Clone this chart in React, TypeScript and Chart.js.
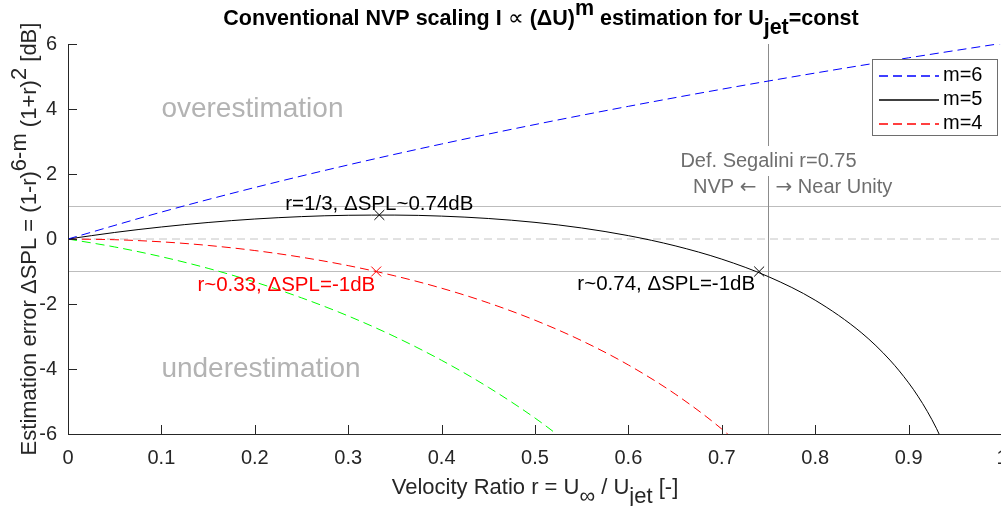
import { useEffect, useRef } from "react";
import { Chart, registerables } from "chart.js";

Chart.register(...registerables);

const FONT = '"Liberation Sans", Arial, Helvetica, sans-serif';
const SYMBOL_FONT = '"DejaVu Sans", sans-serif';
const AXIS_COLOR = "#262626";

// Velocity ratio samples and the ΔSPL estimation error (dB) for each exponent m
const rM6 = [0, 0.1, 0.2, 0.3, 0.4, 0.5, 0.6, 0.7, 0.8, 0.9, 1.0];
const splM6 = [0, 0.828, 1.584, 2.279, 2.923, 3.522, 4.082, 4.609, 5.106, 5.575, 6.021];

const rM5 = [0, 0.05, 0.1, 0.15, 0.2, 0.25, 0.3, 0.35, 0.4, 0.45, 0.5, 0.55, 0.6, 0.65, 0.7, 0.75, 0.8, 0.85, 0.88, 0.9, 0.91, 0.92, 0.93, 0.94];
const splM5 = [0, 0.201, 0.370, 0.508, 0.615, 0.689, 0.730, 0.736, 0.704, 0.631, 0.512, 0.339, 0.103, -0.210, -0.620, -1.160, -1.884, -2.896, -3.725, -4.425, -4.837, -5.303, -5.838, -6.463];

const rM4 = [0, 0.05, 0.1, 0.15, 0.2, 0.25, 0.3, 0.35, 0.4, 0.45, 0.5, 0.55, 0.6, 0.65, 0.7, 0.75];
const splM4 = [0, -0.022, -0.087, -0.198, -0.355, -0.561, -0.819, -1.135, -1.514, -1.965, -2.499, -3.129, -3.876, -4.769, -5.849, -7.180];

const rM3 = [0, 0.05, 0.1, 0.15, 0.2, 0.25, 0.3, 0.35, 0.4, 0.45, 0.5, 0.55];
const splM3 = [0, -0.245, -0.545, -0.903, -1.324, -1.810, -2.368, -3.006, -3.733, -4.562, -5.509, -6.597];

// Highlighted points: [r, ΔSPL]
const peakM5 = [1 / 3, 0.74];
const minusOneM4 = [0.33, -1];
const minusOneM5 = [0.74, -1];

// Reference lines
const guideLevels = [1, -1];
const zeroLevel = 0;
const segaliniR = 0.75;

const xTicks = [0, 0.1, 0.2, 0.3, 0.4, 0.5, 0.6, 0.7, 0.8, 0.9, 1];
const xTickLabels = ["0", "0.1", "0.2", "0.3", "0.4", "0.5", "0.6", "0.7", "0.8", "0.9", "1"];
const yTicks = [-6, -4, -2, 0, 2, 4, 6];
const yTickLabels = ["-6", "-4", "-2", "0", "2", "4", "6"];

const legendLabels = ["m=6", "m=5", "m=4"];
const seriesColors = ["#0000ff", "#000000", "#ff0000", "#00ff00"];
const seriesDash = [[9, 5], [], [9, 5], [9, 5]];

const toPoints = (xs: number[], ys: number[]) => xs.map((x, i) => ({ x, y: ys[i] }));

type Seg = { t: string; s?: "sup" | "sub"; w?: string; f?: string };

function drawRich(
  ctx: CanvasRenderingContext2D,
  segs: Seg[],
  x: number,
  y: number,
  size: number,
  align: "center" | "left" | "right",
  color: string,
  weight = "normal"
) {
  const fontFor = (sg: Seg) => `${sg.w ?? weight} ${size}px ${sg.f ?? FONT}`;
  let total = 0;
  const widths = segs.map((sg) => {
    ctx.font = fontFor(sg);
    const w = ctx.measureText(sg.t).width;
    total += w;
    return w;
  });
  let cx = align === "center" ? x - total / 2 : align === "right" ? x - total : x;
  ctx.fillStyle = color;
  ctx.textAlign = "left";
  segs.forEach((sg, i) => {
    ctx.font = fontFor(sg);
    const dy = sg.s === "sup" ? -0.45 * size : sg.s === "sub" ? 0.42 * size : 0;
    ctx.fillText(sg.t, cx, y + dy);
    cx += widths[i];
  });
}

const decorations = {
  id: "decorations",
  afterDatasetsDraw(chart: any) {
    const { ctx, scales } = chart;
    const xs = scales.x;
    const ys = scales.y;
    // white backdrop behind the Segalini caption
    const cx = xs.getPixelForValue(segaliniR);
    const cy = ys.getPixelForValue(2.4);
    ctx.save();
    ctx.font = `20px ${FONT}`;
    const w = ctx.measureText("Def. Segalini r=0.75").width;
    ctx.fillStyle = "#ffffff";
    ctx.fillRect(cx - w / 2 - 4, cy - 15, w + 8, 30);
    ctx.restore();
  },
  afterDraw(chart: any) {
    const { ctx, chartArea, scales } = chart;
    const xs = scales.x;
    const ys = scales.y;
    const { left, right, top, bottom } = chartArea;
    ctx.save();

    // axes lines and inward ticks
    ctx.strokeStyle = AXIS_COLOR;
    ctx.lineWidth = 1;
    ctx.beginPath();
    ctx.moveTo(Math.round(left) + 0.5, top);
    ctx.lineTo(Math.round(left) + 0.5, Math.round(bottom) + 0.5);
    ctx.lineTo(right, Math.round(bottom) + 0.5);
    xTicks.forEach((t) => {
      const px = Math.round(xs.getPixelForValue(t)) + 0.5;
      ctx.moveTo(px, bottom);
      ctx.lineTo(px, bottom - 9);
    });
    yTicks.forEach((t) => {
      const py = Math.round(ys.getPixelForValue(t)) + 0.5;
      ctx.moveTo(left, py);
      ctx.lineTo(left + 9, py);
    });
    ctx.stroke();

    // tick labels
    ctx.fillStyle = AXIS_COLOR;
    ctx.font = `20px ${FONT}`;
    ctx.textAlign = "center";
    ctx.textBaseline = "middle";
    xTicks.forEach((t, i) => ctx.fillText(xTickLabels[i], xs.getPixelForValue(t), bottom + 24));
    ctx.textAlign = "right";
    yTicks.forEach((t, i) => ctx.fillText(yTickLabels[i], left - 11, ys.getPixelForValue(t)));

    ctx.textBaseline = "alphabetic";
    // title
    drawRich(
      ctx,
      [
        { t: "Conventional NVP scaling I " },
        { t: "\u221D", w: "normal" },
        { t: " (\u0394U)" },
        { t: "m", s: "sup" },
        { t: " estimation for U" },
        { t: "jet", s: "sub" },
        { t: "=const" },
      ],
      (left + right) / 2 + 6,
      25,
      21.5,
      "center",
      "#000000",
      "bold"
    );

    // x axis label
    drawRich(
      ctx,
      [
        { t: "Velocity Ratio r = U" },
        { t: "\u221E", s: "sub" },
        { t: " / U" },
        { t: "jet", s: "sub" },
        { t: " [-]" },
      ],
      (left + right) / 2,
      494,
      22,
      "center",
      AXIS_COLOR
    );

    // y axis label
    ctx.save();
    ctx.translate(36, (top + bottom) / 2);
    ctx.rotate(-Math.PI / 2);
    drawRich(
      ctx,
      [
        { t: "Estimation error \u0394SPL = (1-r)" },
        { t: "6-m", s: "sup" },
        { t: " (1+r)" },
        { t: "2", s: "sup" },
        { t: " [dB]" },
      ],
      0,
      0,
      22,
      "center",
      AXIS_COLOR
    );
    ctx.restore();

    // region captions
    ctx.fillStyle = "#b3b3b3";
    ctx.font = `28px ${FONT}`;
    ctx.textAlign = "left";
    ctx.textBaseline = "middle";
    ctx.fillText("overestimation", xs.getPixelForValue(0.1), ys.getPixelForValue(4));
    ctx.fillText("underestimation", xs.getPixelForValue(0.1), ys.getPixelForValue(-4));

    // Segalini definition
    const vx = xs.getPixelForValue(segaliniR);
    ctx.fillStyle = "#6e6e6e";
    ctx.font = `20px ${FONT}`;
    ctx.textAlign = "center";
    ctx.fillText("Def. Segalini r=0.75", vx, ys.getPixelForValue(2.4));
    ctx.textBaseline = "middle";
    const arrowY = ys.getPixelForValue(1.57);
    drawRich(ctx, [{ t: "NVP " }, { t: "\u2190", f: SYMBOL_FONT }], vx - 12, arrowY, 20, "right", "#6e6e6e");
    drawRich(ctx, [{ t: "\u2192", f: SYMBOL_FONT }, { t: " Near Unity" }], vx + 7, arrowY, 20, "left", "#6e6e6e");

    // point annotations
    ctx.textBaseline = "middle";
    ctx.font = `20.5px ${FONT}`;
    ctx.fillStyle = "#000000";
    ctx.textAlign = "center";
    ctx.fillText("r=1/3, \u0394SPL~0.74dB", xs.getPixelForValue(peakM5[0]), ys.getPixelForValue(peakM5[1]) - 11);
    ctx.textAlign = "right";
    ctx.fillText("r~0.74, \u0394SPL=-1dB", xs.getPixelForValue(minusOneM5[0]) - 4, ys.getPixelForValue(minusOneM5[1]) + 13);
    ctx.fillStyle = "#ff0000";
    ctx.fillText("r~0.33, \u0394SPL=-1dB", xs.getPixelForValue(minusOneM4[0]) - 1, ys.getPixelForValue(minusOneM4[1]) + 14);

    // legend
    const lx = 872.5, ly = 59.5, lw = 125, lh = 76;
    ctx.fillStyle = "#ffffff";
    ctx.fillRect(lx, ly, lw, lh);
    ctx.strokeStyle = "#6e6e6e";
    ctx.lineWidth = 1;
    ctx.strokeRect(lx, ly, lw, lh);
    legendLabels.forEach((lab, i) => {
      const rowY = Math.round(ly + 15 + i * 24) + 0.5;
      ctx.beginPath();
      ctx.strokeStyle = seriesColors[i];
      ctx.lineWidth = 1.3;
      ctx.setLineDash(seriesDash[i]);
      ctx.moveTo(879, rowY + 0.5);
      ctx.lineTo(939, rowY + 0.5);
      ctx.stroke();
      ctx.setLineDash([]);
      ctx.fillStyle = "#000000";
      ctx.font = `20px ${FONT}`;
      ctx.textAlign = "left";
      ctx.textBaseline = "middle";
      ctx.fillText(lab, 943, rowY);
    });

    ctx.restore();
  },
};

export default function App() {
  const canvasRef = useRef<HTMLCanvasElement | null>(null);

  useEffect(() => {
    const canvas = canvasRef.current;
    if (!canvas) return;
    const curve = (data: { x: number; y: number }[], i: number) => ({
      data,
      borderColor: seriesColors[i],
      borderWidth: 1,
      borderDash: seriesDash[i],
      pointRadius: 0,
      fill: false,
      cubicInterpolationMode: "monotone" as const,
      showLine: true,
    });
    const marker = (p: number[], color: string) => ({
      data: [{ x: p[0], y: p[1] }],
      showLine: false,
      pointStyle: "crossRot" as const,
      pointRadius: 7,
      borderColor: color,
      backgroundColor: color,
      borderWidth: 1,
    });
    const ref = (data: { x: number; y: number }[], color: string, dash: number[]) => ({
      data,
      borderColor: color,
      borderWidth: 1,
      borderDash: dash,
      pointRadius: 0,
      showLine: true,
      tension: 0,
    });

    const chart = new Chart(canvas, {
      type: "scatter",
      data: {
        datasets: [
          curve(toPoints(rM6, splM6), 0),
          curve(toPoints(rM5, splM5), 1),
          curve(toPoints(rM4, splM4), 2),
          curve(toPoints(rM3, splM3), 3),
          marker(peakM5, "#000000"),
          marker(minusOneM4, "#ff0000"),
          marker(minusOneM5, "#000000"),
          ref([{ x: segaliniR, y: -6 }, { x: segaliniR, y: 6 }], "#8c8c8c", []),
          ref([{ x: 0, y: guideLevels[0] }, { x: 1, y: guideLevels[0] }], "#bdbdbd", []),
          ref([{ x: 0, y: guideLevels[1] }, { x: 1, y: guideLevels[1] }], "#bdbdbd", []),
          ref([{ x: 0, y: zeroLevel }, { x: 1, y: zeroLevel }], "#c4c4c4", [8, 5]),
        ] as any,
      },
      options: {
        animation: false,
        responsive: false,
        events: [],
        layout: { padding: { left: 68, top: 44, right: 7, bottom: 72 } },
        plugins: { legend: { display: false }, tooltip: { enabled: false }, title: { display: false } },
        scales: {
          x: { type: "linear", min: 0, max: 1, display: false },
          y: { type: "linear", min: -6, max: 6, display: false },
        },
      },
      plugins: [decorations],
    });
    return () => chart.destroy();
  }, []);

  return (
    <div
      style={{
        position: "fixed",
        left: 0,
        top: 0,
        width: 1001,
        height: 506,
        overflow: "hidden",
        background: "#ffffff",
      }}
    >
      <canvas ref={canvasRef} width={1010} height={506} style={{ display: "block" }} />
    </div>
  );
}
